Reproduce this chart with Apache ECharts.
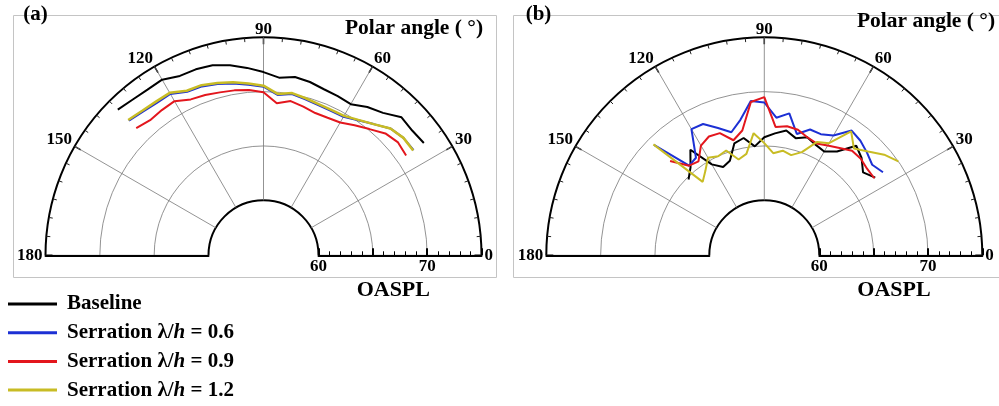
<!DOCTYPE html>
<html><head><meta charset="utf-8">
<script src="https://cdn.jsdelivr.net/npm/echarts@6/dist/echarts.min.js"></script>
<style>html,body{margin:0;padding:0;background:#fff}#c{width:999px;height:406px}</style>
</head><body><div id="c"></div>
<script>
// Polar angles (degrees) of the measurement points
const angles = [135,130,125,120,115,110,105,100,95,90,85,80,75,70,65,60,55,50,45,40,35];
// Panel (a) OASPL values
const aBaseline = [73.9,73.65,73.55,73.6,73.15,73.15,73.05,72.7,72.25,71.8,71.35,71.6,71.45,71.2,71.1,71.0,71.6,72.05,72.9,72.8,72.95];
const aS06 = [72.45,72.2,72.05,72.08,71.55,71.48,71.25,71.0,70.7,70.46,69.75,70.0,69.8,69.65,69.6,69.65,70.1,70.7,71.45,71.75,71.8];
const aS09 = [71.5,71.17,71.25,71.32,70.77,70.63,70.46,70.35,70.2,69.94,68.98,69.35,69.1,68.87,68.9,69.05,69.55,70.1,70.8,71.1,70.96];
const aS12 = [72.55,72.3,72.2,72.2,71.65,71.6,71.35,71.1,70.8,70.55,69.85,70.1,69.9,69.75,69.7,69.75,70.15,70.7,71.45,71.75,71.75];
// Panel (b) OASPL values
const bBaseline = [64.8,65.5,66.8,64.6,63.9,64.2,65.6,65.9,65.0,65.8,66.2,66.6,66.1,66.5,66.15,65.96,66.6,68.1,67.6,66.8,67.4];
const bS06 = [69.3,65.7,65.9,68.35,68.27,67.4,66.66,67.6,69.2,69.0,67.65,68.2,66.5,67.26,67.24,67.66,68.95,68.7,68.3,67.9,68.27];
const bS09 = [67.2,65.7,65.5,66.6,67.0,66.9,65.9,66.6,69.1,69.5,66.8,67.0,66.9,66.5,66.3,66.6,67.0,67.5,67.5,67.3,67.3];
const bS12 = [69.37,63.76,64.4,65.3,65.0,65.2,64.07,64.42,66.22,65.26,64.37,64.71,64.48,65.04,66.45,66.85,68.87,67.77,68.45,69.34,70.0];
// Labels
const seriesNames = ['Baseline','Serration λ/h = 0.6','Serration λ/h = 0.9','Serration λ/h = 1.2'];
const radiusLabels = [60, 70];

const colors = ['#000000','#1c30d4','#e3161d','#c8bc24'];
const FONT = 'Liberation Serif';
const chart = echarts.init(document.getElementById('c'), null, {renderer:'canvas'});

const centers = [[263.5,255.3],[764.3,255.3]];
const polar = [];
centers.forEach(c => { polar.push({center:c, radius:[55,218]}); polar.push({center:c, radius:[55,218]}); });

const angleAxis = [], radiusAxis = [];
[0,2].forEach(pi => {
  angleAxis.push({
    polarIndex: pi, type:'value', min:0, max:180, interval:30,
    startAngle:0, endAngle:180, clockwise:false,
    axisLine:{show:false},
    axisTick:{show:true, inside:true, length:7, lineStyle:{color:'#000', width:1.5}},
    minorTick:{show:true, splitNumber:6, length:4, lineStyle:{color:'#222', width:1}},
    axisLabel:{margin:3, color:'#000', fontFamily:FONT, fontWeight:'bold', fontSize:17, lineHeight:10},
    splitLine:{show:true, lineStyle:{color:'#777', width:0.8}}
  });
  angleAxis.push({
    polarIndex: pi+1, type:'value', min:0, max:180,
    startAngle:180, endAngle:0, clockwise:true,
    axisLine:{show:false}, axisTick:{show:false}, axisLabel:{show:false}, splitLine:{show:false}
  });
  radiusAxis.push({
    polarIndex: pi, type:'value', min:60, max:75, interval:5,
    axisLine:{show:true, lineStyle:{color:'#000', width:2}},
    axisTick:{show:true, length:7, lineStyle:{color:'#000', width:2}},
    minorTick:{show:true, splitNumber:5, length:4, lineStyle:{color:'#000', width:1}},
    axisLabel:{formatter: v => radiusLabels.indexOf(v) >= 0 ? String(v) : '', margin:-3, verticalAlign:'top',
      color:'#000', fontFamily:FONT, fontWeight:'bold', fontSize:17},
    splitLine:{show:true, lineStyle:{color:['rgba(0,0,0,0)','#777','#777','rgba(0,0,0,0)'], width:0.8}}
  });
  radiusAxis.push({
    polarIndex: pi+1, type:'value', min:60, max:75, interval:15,
    axisLine:{show:true, lineStyle:{color:'#000', width:2}},
    axisTick:{show:false}, axisLabel:{show:false},
    splitLine:{show:true, lineStyle:{color:'#000', width:2}}
  });
});

const zip = vals => vals.map((v,i) => [v, angles[i]]);
const series = [];
[[aBaseline,aS06,aS09,aS12],[bBaseline,bS06,bS09,bS12]].forEach((set, p) => {
  set.forEach((vals, k) => {
    series.push({
      type:'line', name: seriesNames[k], coordinateSystem:'polar', polarIndex: p*2,
      data: zip(vals), showSymbol:false, symbol:'none',
      lineStyle:{color:colors[k], width: k===3 && p===0 ? 2.5 : 2},
      itemStyle:{color:colors[k]}, z: 3+k
    });
  });
});

const txt = (x,y,t,size,align) => ({type:'text', x, y, style:{text:t, fill:'#000',
  font:'bold '+size+'px "'+FONT+'"', textAlign:align||'center', textVerticalAlign:'middle'}, z:100});

chart.setOption({
  animation:false,
  backgroundColor:'#fff',
  polar, angleAxis, radiusAxis, series,
  legend:{
    orient:'vertical', left:8, top:292, padding:0, itemWidth:49, itemHeight:3, itemGap:4.7, icon:'rect',
    data: seriesNames,
    formatter: n => n.replace('/h', '/{i|h}'),
    textStyle:{fontFamily:FONT, fontWeight:'bold', fontSize:21, color:'#000', lineHeight:24, padding:[0,0,0,5],
      rich:{i:{fontFamily:FONT, fontWeight:'bold', fontStyle:'italic', fontSize:21, color:'#000', lineHeight:24}}}
  },
  graphic:[
    {type:'rect', shape:{x:13.5,y:15.5,width:483,height:262}, style:{fill:null, stroke:'#c4c4c4', lineWidth:1}, z:-10},
    {type:'rect', shape:{x:513.5,y:15.5,width:490,height:262}, style:{fill:null, stroke:'#c4c4c4', lineWidth:1}, z:-10},
    txt(35.5,15,'(a)',21), txt(538.5,15,'(b)',21),
    txt(414,28,'Polar angle ( °)',21.5), txt(926,21.7,'Polar angle ( °)',21.5),
    txt(393.3,290,'OASPL',22), txt(894,290,'OASPL',22)
  ]
});
</script></body></html>
